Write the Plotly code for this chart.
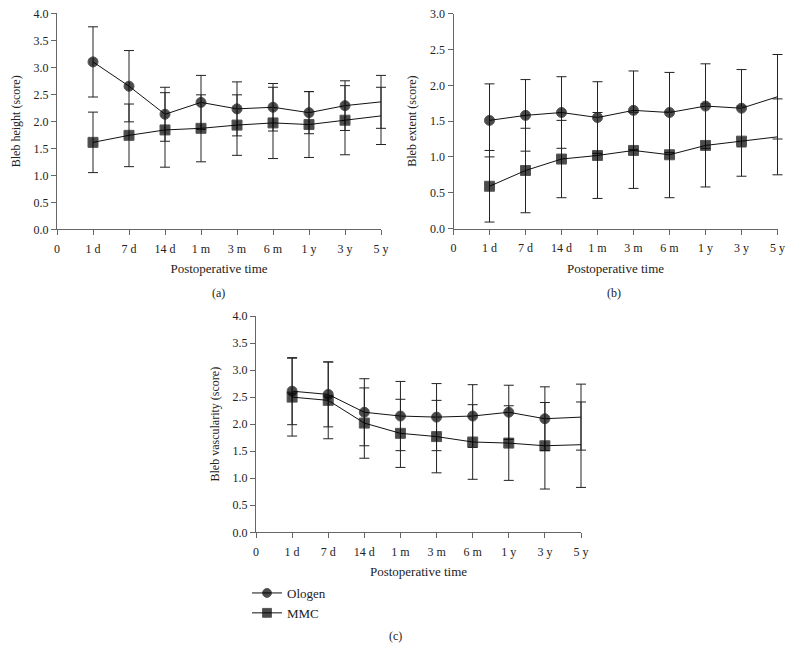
import plotly.graph_objects as go

tick_labels = ["0", "1 d", "7 d", "14 d", "1 m", "3 m", "6 m", "1 y", "3 y", "5 y"]
times = ["1 d", "7 d", "14 d", "1 m", "3 m", "6 m", "1 y", "3 y", "5 y"]

# (a) Bleb height
height_ologen = [3.10, 2.65, 2.13, 2.35, 2.23, 2.26, 2.16, 2.29, 2.36]
height_ologen_sd = [0.65, 0.66, 0.50, 0.50, 0.50, 0.44, 0.39, 0.46, 0.49]
height_mmc = [1.61, 1.74, 1.84, 1.87, 1.93, 1.97, 1.94, 2.02, 2.10]
height_mmc_sd = [0.56, 0.58, 0.69, 0.62, 0.56, 0.66, 0.61, 0.64, 0.53]

# (b) Bleb extent
extent_ologen = [1.51, 1.58, 1.62, 1.55, 1.65, 1.62, 1.71, 1.68, 1.84]
extent_ologen_sd = [0.51, 0.50, 0.50, 0.50, 0.55, 0.56, 0.59, 0.54, 0.59]
extent_mmc = [0.59, 0.81, 0.97, 1.02, 1.09, 1.03, 1.16, 1.22, 1.28]
extent_mmc_sd = [0.50, 0.59, 0.54, 0.60, 0.53, 0.60, 0.58, 0.49, 0.53]

# (c) Bleb vascularity
vasc_ologen = [2.61, 2.55, 2.22, 2.15, 2.13, 2.15, 2.22, 2.10, 2.13]
vasc_ologen_sd = [0.62, 0.60, 0.62, 0.64, 0.62, 0.58, 0.50, 0.59, 0.61]
vasc_mmc = [2.50, 2.44, 2.02, 1.83, 1.77, 1.67, 1.65, 1.60, 1.62]
vasc_mmc_sd = [0.72, 0.71, 0.65, 0.63, 0.67, 0.69, 0.69, 0.80, 0.79]

FONT = "Liberation Serif"
W, H = 792, 650
xpos = list(range(1, len(times) + 1))
msizes = [10] * (len(times) - 1) + [0]
n_int = len(tick_labels) - 1  # 9 intervals
EXT = 8  # px of extra room on the right so end caps are not clipped

fig = go.Figure()

panels = [
    ("x", "y", height_ologen, height_ologen_sd, height_mmc, height_mmc_sd),
    ("x2", "y2", extent_ologen, extent_ologen_sd, extent_mmc, extent_mmc_sd),
    ("x3", "y3", vasc_ologen, vasc_ologen_sd, vasc_mmc, vasc_mmc_sd),
]

# empty traces so the displayed (tick-bearing) x axes get drawn (added first -> drawn below)
for k in range(3):
    ya = "y" if k == 0 else "y" + str(k + 1)
    fig.add_trace(go.Scatter(x=[], y=[], xaxis="x" + str(k + 4), yaxis=ya,
                             showlegend=False, hoverinfo="skip"))

for xa, ya, o, osd, m, msd in panels:
    show = (xa == "x3")
    for name, vals, sd, sym in [("Ologen", o, osd, "circle"), ("MMC", m, msd, "square")]:
        fig.add_trace(go.Scatter(
            x=xpos, y=vals, xaxis=xa, yaxis=ya, name=name, showlegend=show,
            mode="lines+markers",
            line=dict(color="#111111", width=1),
            marker=dict(symbol=sym, size=msizes, color="#000000"),
            error_y=dict(type="data", array=sd, visible=True, color="#222222",
                         thickness=1, width=5),
            cliponaxis=False,
        ))

axis_common = dict(
    showgrid=False, zeroline=False, showline=True, linecolor="#666666", linewidth=1,
    ticks="outside", ticklen=5, tickcolor="#666666", automargin=False,
    tickfont=dict(family=FONT, size=12, color="#222222"),
)

xpix = [(57, 381), (453.5, 777.5), (256, 581)]
ypix = [(13.3, 229.3), (13.7, 228.5), (316, 532.3)]
ytitles = ["Bleb height (score)", "Bleb extent (score)", "Bleb vascularity (score)"]
yranges = [[0, 4], [0, 3], [0, 4]]

layout = dict(
    width=W, height=H,
    margin=dict(l=0, r=0, t=0, b=0, autoexpand=False),
    paper_bgcolor="white", plot_bgcolor="rgba(0,0,0,0)",
    font=dict(family=FONT, size=12, color="#222222"),
    legend=dict(x=247 / W, y=1 - 578 / H, xanchor="left", yanchor="top",
                font=dict(family=FONT, size=13, color="#222222"),
                tracegroupgap=0, itemwidth=30, bgcolor="rgba(0,0,0,0)"),
)

for k in range(3):
    sx = "" if k == 0 else str(k + 1)
    dx = str(k + 4)
    a, b = xpix[k]
    w = b - a
    # data axis (hidden), a little wider so the last error-bar caps are not clipped
    layout["xaxis" + sx] = dict(
        visible=False, domain=[a / W, (b + EXT) / W], range=[0, n_int * (w + EXT) / w],
        anchor="y" + sx, automargin=False, showgrid=False, zeroline=False,
    )
    # displayed axis
    layout["xaxis" + dx] = dict(
        axis_common, domain=[a / W, b / W], range=[0, n_int],
        tickmode="array", tickvals=list(range(0, n_int + 1)), ticktext=tick_labels,
        anchor="y" + sx, ticklabelstandoff=3,
        title=dict(text="Postoperative time", font=dict(family=FONT, size=13, color="#222222"),
                   standoff=9),
    )
    y0, y1 = ypix[k]
    layout["yaxis" + sx] = dict(
        axis_common, domain=[1 - y1 / H, 1 - y0 / H], range=yranges[k],
        dtick=0.5, tickformat=".1f", anchor="x" + sx,
        title=dict(text=ytitles[k], font=dict(family=FONT, size=12, color="#222222"),
                   standoff=10),
    )

fig.update_layout(**layout)

for label, xp, yp in [("(a)", 219, 293), ("(b)", 614, 293), ("(c)", 395, 636)]:
    fig.add_annotation(text=label, x=xp / W, y=1 - yp / H, xref="paper", yref="paper",
                       showarrow=False, xanchor="center", yanchor="middle",
                       font=dict(family=FONT, size=12, color="#222222"))

fig.write_html("out.html", config={"displayModeBar": False},
               post_script="document.body.style.margin='0';document.body.style.overflow='hidden';")
